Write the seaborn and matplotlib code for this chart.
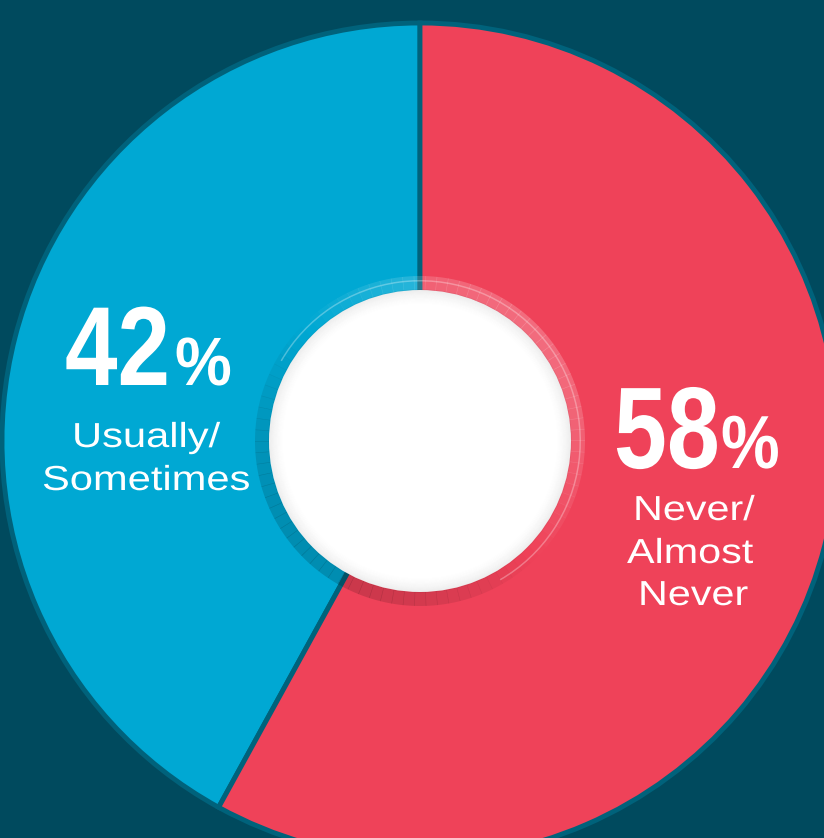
import numpy as np
import matplotlib
matplotlib.use("Agg")
import matplotlib.pyplot as plt
import seaborn as sns
from matplotlib.patches import Circle, Wedge
from matplotlib.patheffects import AbstractPathEffect
from matplotlib.transforms import Affine2D

# ---- data ----
categories = ["Usually/\nSometimes", "Never/\nAlmost\nNever"]
values = [42, 58]
colors = ["#00a8d3", "#ef4259"]
pct_labels = ["42", "58"]

sns.set_theme(style="white")
plt.rcParams["font.family"] = ["Liberation Sans", "DejaVu Sans"]


class Stretch(AbstractPathEffect):
    """Draw text glyphs scaled about the text's left baseline origin."""
    def __init__(self, sx=1.0, sy=1.0):
        super().__init__()
        self.sx = sx
        self.sy = sy

    def draw_path(self, renderer, gc, tpath, affine, rgbFace=None):
        renderer.draw_path(gc, tpath, Affine2D().scale(self.sx, self.sy) + affine, rgbFace)


W, H = 824, 838
BG = "#004a5e"
fig = plt.figure(figsize=(W / 100, H / 100), dpi=100, facecolor=BG)
ax = fig.add_axes([0, 0, 1, 1])
ax.set_facecolor(BG)

cx, cy = 420, H - 441
R = 418
wedges, _ = ax.pie(values, colors=colors, startangle=90, counterclock=True,
                   center=(cx, cy), radius=R,
                   wedgeprops=dict(edgecolor="#00627b", linewidth=3.5))

# hole ring with light (upper-right) / dark (lower-left) shading
r_hole = 151
r_ring = 165
for a0 in range(0, 360, 4):
    c = np.cos(np.deg2rad(a0 + 2 - 45))
    if c > 0:
        ax.add_patch(Wedge((cx, cy), r_ring, a0, a0 + 4.2, width=r_ring - r_hole,
                           facecolor="white", alpha=0.22 * c, edgecolor="none"))
    else:
        ax.add_patch(Wedge((cx, cy), r_ring, a0, a0 + 4.2, width=r_ring - r_hole,
                           facecolor="black", alpha=0.16 * (-c), edgecolor="none"))
ax.add_patch(Wedge((cx, cy), 161, -60, 150, width=1.5, facecolor="white",
                   alpha=0.3, edgecolor="none"))
ax.add_patch(Circle((cx, cy), r_hole, facecolor="white", edgecolor="none"))
# inner shadow
n = 16
for i in range(n):
    ax.add_patch(Circle((cx, cy), r_hole - i, fill=False, edgecolor="black",
                        alpha=0.045 * (1 - i / n) ** 1.6, linewidth=1.2))


def put(x, ybase, s, size, sx=1.0, sy=1.0, bold=False):
    ax.text(x, H - ybase, s, color="white", fontsize=size,
            fontweight="bold" if bold else "normal",
            ha="left", va="baseline", path_effects=[Stretch(sx, sy)])


# 42%
put(65, 385, pct_labels[0], 68, sy=1.19, bold=True)
put(175, 385, "%", 46, sy=1.07, bold=True)
for txt, x0, yb in zip(categories[0].split("\n"), [72, 42], [447, 490]):
    put(x0, yb, txt, 25, sx=1.2)

# 58%
put(614, 468, pct_labels[1], 68.5, sy=1.22, bold=True)
put(721, 468, "%", 47.5, sy=1.14, bold=True)
for txt, x0, yb in zip(categories[1].split("\n"), [633, 627, 638], [520, 563, 605]):
    put(x0, yb, txt, 25, sx=1.19)

ax.set_xlim(0, W)
ax.set_ylim(0, H)
ax.set_aspect("equal")
ax.axis("off")
fig.savefig("out.png", dpi=100, facecolor=BG)
